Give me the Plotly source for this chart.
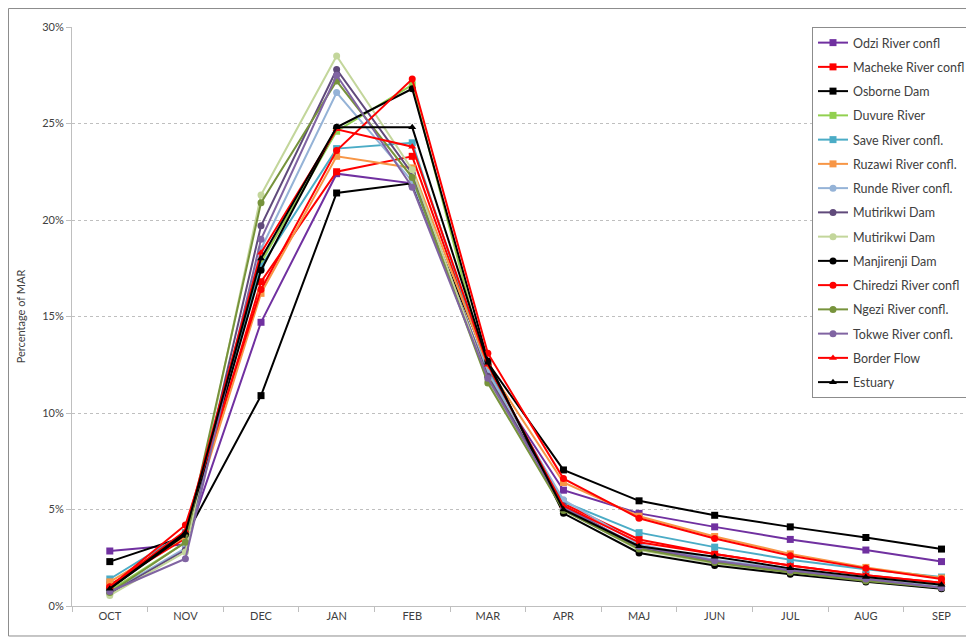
import plotly.graph_objects as go

months = ["OCT", "NOV", "DEC", "JAN", "FEB", "MAR", "APR", "MAJ", "JUN", "JUL", "AUG", "SEP"]

odzi = [2.85, 3.2, 14.7, 22.4, 21.9, 12.0, 6.0, 4.8, 4.1, 3.45, 2.9, 2.3]
macheke = [1.1, 3.5, 16.8, 22.5, 23.3, 12.3, 5.3, 3.45, 2.7, 2.1, 1.6, 1.2]
osborne = [2.3, 3.6, 10.9, 21.4, 21.9, 12.6, 7.05, 5.45, 4.7, 4.1, 3.55, 2.95]
duvure = [0.8, 3.3, 17.8, 24.6, 27.0, 12.0, 5.0, 3.0, 2.3, 1.8, 1.4, 1.0]
save = [1.4, 3.8, 17.6, 23.7, 24.0, 12.2, 5.4, 3.8, 3.05, 2.4, 1.9, 1.5]
ruzawi = [1.25, 3.6, 16.2, 23.3, 22.7, 12.4, 6.4, 4.65, 3.6, 2.7, 2.0, 1.45]
runde = [0.7, 3.0, 18.5, 26.6, 22.0, 12.1, 5.5, 3.2, 2.4, 1.9, 1.4, 1.0]
mutirikwi = [0.65, 2.9, 19.7, 27.8, 22.4, 11.9, 5.2, 3.0, 2.3, 1.8, 1.35, 0.95]
mutirikwi2 = [0.55, 2.8, 21.3, 28.5, 22.6, 11.7, 5.0, 2.9, 2.2, 1.7, 1.3, 0.9]
manjirenji = [0.9, 3.7, 17.4, 24.8, 26.8, 12.7, 4.8, 2.75, 2.1, 1.65, 1.25, 0.9]
chiredzi = [1.0, 4.2, 16.4, 23.6, 27.3, 13.1, 6.6, 4.55, 3.5, 2.6, 1.95, 1.4]
ngezi = [0.7, 3.3, 20.9, 27.2, 22.2, 11.55, 4.95, 2.95, 2.25, 1.75, 1.3, 0.95]
tokwe = [0.75, 2.45, 19.0, 27.5, 21.7, 11.8, 5.1, 3.1, 2.35, 1.85, 1.4, 0.95]
border_flow = [1.0, 3.9, 18.3, 24.7, 23.8, 12.5, 5.2, 3.3, 2.7, 2.1, 1.6, 1.2]
estuary = [0.9, 3.8, 18.0, 24.8, 24.8, 12.6, 5.0, 3.1, 2.55, 1.95, 1.5, 1.1]

series = [
    ("Odzi River confl", odzi, "#7030A0", "square"),
    ("Macheke River confl", macheke, "#FF0000", "square"),
    ("Osborne Dam", osborne, "#000000", "square"),
    ("Duvure River", duvure, "#92D050", "square"),
    ("Save River confl.", save, "#4BACC6", "square"),
    ("Ruzawi River confl.", ruzawi, "#F79646", "square"),
    ("Runde River confl.", runde, "#95B3D7", "circle"),
    ("Mutirikwi Dam", mutirikwi, "#604A7B", "circle"),
    ("Mutirikwi Dam", mutirikwi2, "#C3D69B", "circle"),
    ("Manjirenji Dam", manjirenji, "#000000", "circle"),
    ("Chiredzi River confl", chiredzi, "#FF0000", "circle"),
    ("Ngezi River confl.", ngezi, "#77933C", "circle"),
    ("Tokwe River confl.", tokwe, "#8064A2", "circle"),
    ("Border Flow", border_flow, "#FF0000", "triangle-up"),
    ("Estuary", estuary, "#000000", "triangle-up"),
]

fig = go.Figure()
for i, (name, vals, color, sym) in enumerate(series):
    fig.add_trace(go.Scatter(
        x=months, y=vals, name=name, mode="lines+markers",
        line=dict(color=color, width=2),
        marker=dict(symbol=sym, size=7, color=color),
        legendgroup="g%d" % i,
    ))

fig.update_layout(
    width=966, height=635,
    margin=dict(l=64, r=0, t=19, b=37),
    paper_bgcolor="white", plot_bgcolor="white",
    font=dict(family="Lato, 'Open Sans', sans-serif", size=11, color="#404040"),
    showlegend=True,
    legend=dict(
        x=0.8204, y=1.0, xanchor="left", yanchor="top",
        bgcolor="white", bordercolor="#8C8C8C", borderwidth=1,
        font=dict(size=12.5, color="#404040"),
        tracegroupgap=5, itemwidth=30,
    ),
    xaxis=dict(
        type="category", range=[-0.5, 11.43],
        showline=True, linecolor="#BFBFBF", linewidth=1,
        ticks="outside", tickson="boundaries", ticklen=5, tickcolor="#BFBFBF",
        showgrid=False, tickfont=dict(size=11, color="#404040"),
    ),
    yaxis=dict(
        range=[0, 30], dtick=5, ticksuffix="%",
        showline=True, linecolor="#BFBFBF", linewidth=1,
        ticks="outside", ticklen=5, tickcolor="#BFBFBF",
        showgrid=True, gridcolor="#BFBFBF", griddash="dot", gridwidth=1,
        zeroline=False,
        title=dict(text="Percentage of MAR", font=dict(size=11, color="#404040"), standoff=14),
        tickfont=dict(size=11, color="#404040"),
    ),
    shapes=[dict(type="rect", xref="paper", yref="paper",
                 x0=-0.0704, x1=1.05, y0=-0.0518, y1=1.0319,
                 line=dict(color="#8C8C8C", width=1), layer="below")],
)

fig.write_html("out.html")
